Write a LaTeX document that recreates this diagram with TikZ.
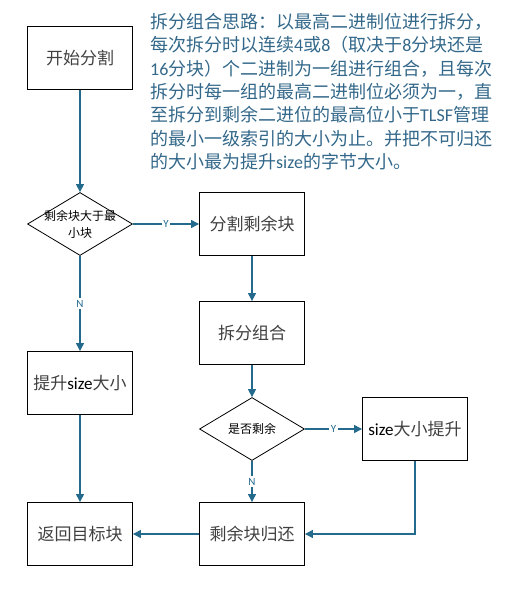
\documentclass[tikz,border=0pt]{standalone}
\usepackage{fontspec}
\setmainfont{Noto Sans CJK SC}
\newfontfamily\lat{Carlito}
\usetikzlibrary{shapes.geometric,arrows.meta}
\definecolor{arr}{HTML}{236A8C}
\definecolor{para}{HTML}{33688A}
\definecolor{boxtxt}{HTML}{404040}
\begin{document}
\begin{tikzpicture}[x=1pt,y=-1pt,
  box/.style={draw=black, line width=0.9pt, minimum width=105pt, minimum height=63pt, inner sep=0pt, font=\fontsize{17}{20}\selectfont, text=boxtxt},
  dia/.style={diamond, draw=black, line width=0.8pt, minimum width=105pt, minimum height=63pt, inner sep=0pt},
  diatxt/.style={align=center, inner sep=0pt, font=\fontsize{12}{17}\selectfont, text=black},
  arrow/.style={draw=arr, line width=1.3pt, -{Triangle[length=8pt,width=8pt]}},
  lbl/.style={fill=white, inner sep=1.5pt, font=\lat\fontsize{11}{12}\selectfont, text=arr},
  ptxt/.style={anchor=base west, inner sep=0pt, font=\fontsize{18}{23}\selectfont, text=para}]
\useasboundingbox (0,0) rectangle (507,609);
% paragraph
\node[ptxt] (p1) at (150,28.5) {拆分组合思路：以最高二进制位进行拆分，};
\node[ptxt] (p2) at (150,51.8) {每次拆分时以连续{\lat 4}或{\lat 8}（取决于{\lat 8}分块还是};
\node[ptxt] (p3) at (150,75.2) {{\lat 16}分块）个二进制为一组进行组合，且每次};
\node[ptxt] (p4) at (150,98.5) {拆分时每一组的最高二进制位必须为一，直};
\node[ptxt] (p5) at (150,121.8) {至拆分到剩余二进位的最高位小于{\lat TLSF}管理};
\node[ptxt] (p6) at (150,145.2) {的最小一级索引的大小为止。并把不可归还};
\node[ptxt] (p7) at (150,168.5) {的大小最为提升{\lat size}的字节大小。};
% nodes
\node[box] (start) at (80,58) {开始分割};
\node[dia, label={[diatxt]center:剩余块大于最\\小块}] (d1) at (80,224) {};
\node[box] (split) at (252,224) {分割剩余块};
\node[box] (comb) at (252,333) {拆分组合};
\node[box] (up) at (80,383) {提升{\lat\color{black}size}大小};
\node[dia, label={[diatxt]center:是否剩余}] (d2) at (252,429) {};
\node[box] (sz) at (415,429) {{\lat\color{black}size}大小提升};
\node[box] (back) at (80,534) {返回目标块};
\node[box] (ret) at (252,534) {剩余块归还};
% connectors
\draw[arrow] (start) -- (d1);
\draw[arrow] (d1) -- node[lbl]{Y} (split);
\draw[arrow] (d1) -- node[lbl]{N} (up);
\draw[arrow] (split) -- (comb);
\draw[arrow] (comb) -- (d2);
\draw[arrow] (d2) -- node[lbl]{Y} (sz);
\draw[arrow] (d2) -- node[lbl]{N} (ret);
\draw[arrow] (up) -- (back);
\draw[arrow] (ret) -- (back);
\draw[arrow] (sz.south) |- (ret.east);
\end{tikzpicture}
\end{document}
